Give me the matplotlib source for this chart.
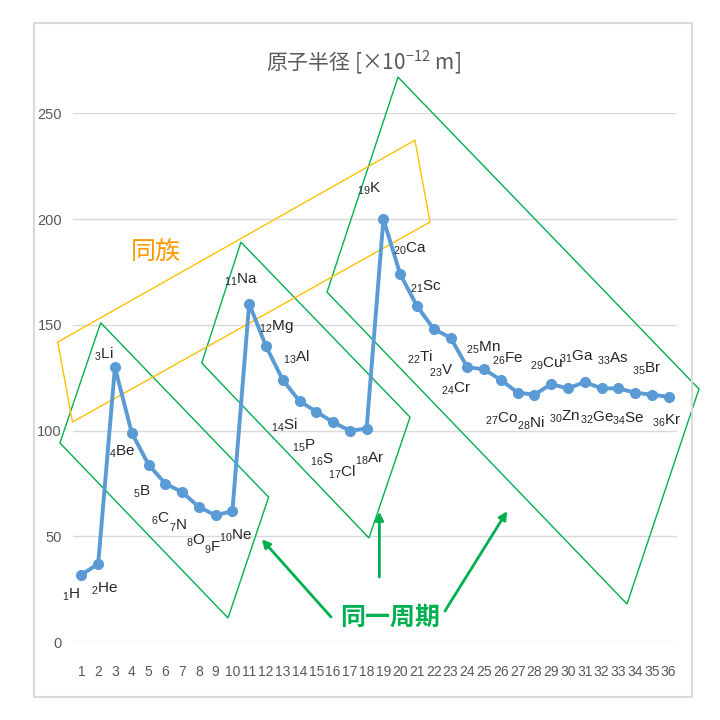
import matplotlib

matplotlib.use("Agg")

import matplotlib.pyplot as plt
from matplotlib.patches import Polygon, Rectangle

# atomic number, symbol, radius [pm]
numbers = list(range(1, 37))
symbols = ["H", "He", "Li", "Be", "B", "C", "N", "O", "F", "Ne",
           "Na", "Mg", "Al", "Si", "P", "S", "Cl", "Ar",
           "K", "Ca", "Sc", "Ti", "V", "Cr", "Mn", "Fe", "Co", "Ni",
           "Cu", "Zn", "Ga", "Ge", "As", "Se", "Br", "Kr"]
radii = [32, 37, 130, 99, 84, 75, 71, 64, 60, 62,
         160, 140, 124, 114, 109, 104, 100, 101,
         200, 174, 159, 148, 144, 130, 129, 124, 118, 117,
         122, 120, 123, 120, 120, 118, 117, 116]
y_ticks = [0, 50, 100, 150, 200, 250]

title = "原子半径 [×10$^{\\mathregular{-12}}$ m]"
group_text = "同族"
period_text = "同一周期"

# label offsets from each point, pixels (dx right, dy down)
label_offsets = [(-10, 20), (7, 25), (-11, -13), (-9, 19), (-7, 27), (-5, 35),
                 (-4, 34), (-3, 34), (-3, 32), (3, 25),
                 (-8, -24), (10, -20), (14, -23), (-15, 24), (-12, 34), (-11, 37),
                 (-8, 41), (3, 30),
                 (-14, -30), (10, -25), (9, -19), (-14, 28), (-9, 33), (-11, 21),
                 (-1, -22), (7, -21), (-16, 26), (-3, 28), (-5, -20), (-3, 28),
                 (-8, -25), (-4, 29), (-5, -30), (-7, 26), (-5, -26), (-2, 24)]

# annotation shapes in data coordinates
period_boxes = [
    [(2.15, 151.0), (12.16, 68.6), (9.74, 11.5), (-0.28, 94.2)],
    [(10.51, 189.1), (20.59, 106.4), (18.14, 49.3), (8.17, 132.0)],
    [(19.87, 267.1), (37.81, 119.7), (33.52, 18.1), (15.64, 165.5)],
]
group_box = [(-0.41, 141.9), (20.88, 237.3), (21.78, 198.6), (0.47, 104.1)]
arrows = [((15.88, 11.95), (11.75, 48.7)),
          ((18.76, 30.85), (18.76, 61.7)),
          ((22.67, 14.8), (26.38, 62.0))]

BLUE = "#5B9BD5"
GREEN = "#00B050"
GOLD = "#FFC000"
GRAY = "#595959"
LATIN = ["Liberation Sans", "DejaVu Sans"]
CJK = ["Noto Sans CJK JP", "DejaVu Sans"]

fig = plt.figure(figsize=(7.2, 7.2), dpi=100)
fig.add_artist(Rectangle((34 / 720, 1 - 697 / 720), 658 / 720, 674 / 720,
                         transform=fig.transFigure, fill=False,
                         edgecolor="#D9D9D9", linewidth=1.5))
ax = fig.add_axes([73 / 720, 1 - 642.3 / 720, 604 / 720, 529 / 720])

ax.plot(numbers, radii, color=BLUE, linewidth=2.8, marker="o",
        markersize=7, zorder=3)

for n, sym, r, (dx, dy) in zip(numbers, symbols, radii, label_offsets):
    ax.annotate(f"$_{{\\mathregular{{{n}}}}}$" + sym, (n, r),
                xytext=(dx, -dy), textcoords="offset pixels",
                ha="center", va="center", fontsize=11,
                family=LATIN, color="#262626", zorder=4)

for box in period_boxes:
    ax.add_patch(Polygon(box, closed=True, fill=False, edgecolor=GREEN,
                         linewidth=1.0, clip_on=False))
ax.add_patch(Polygon(group_box, closed=True, fill=False, edgecolor=GOLD,
                     linewidth=1.0, clip_on=False))

for tail, tip in arrows:
    ax.annotate("", xy=tip, xytext=tail, annotation_clip=False,
                arrowprops=dict(arrowstyle="-|>", color=GREEN, lw=2,
                                mutation_scale=12, shrinkA=0, shrinkB=0))

ax.text(5.45, 184.4, group_text, color="#FF9900", fontsize=18,
        family=CJK, ha="center", va="center")
ax.text(19.39, 11.5, period_text, color=GREEN, fontsize=18,
        family=CJK, fontweight="bold", ha="center", va="center")

ax.set_xlim(0.5, 36.5)
ax.set_ylim(0, 250)
ax.set_xticks(numbers)
ax.set_xticklabels([str(n) for n in numbers], family=LATIN, fontsize=10,
                   color=GRAY)
ax.set_yticks(y_ticks)
ax.set_yticklabels([str(v) for v in y_ticks], family=LATIN, fontsize=10.5,
                   color=GRAY)
ax.tick_params(axis="x", length=0, pad=16)
ax.tick_params(axis="y", length=0, pad=8)
ax.grid(axis="y", color="#D9D9D9", linewidth=1)
ax.set_axisbelow(True)
for spine in ax.spines.values():
    spine.set_visible(False)

fig.text(363 / 720, 1 - 62 / 720, title, ha="center", va="center",
         fontsize=15, family=CJK, color=GRAY)

fig.savefig("out.png", dpi=100, facecolor="white")
